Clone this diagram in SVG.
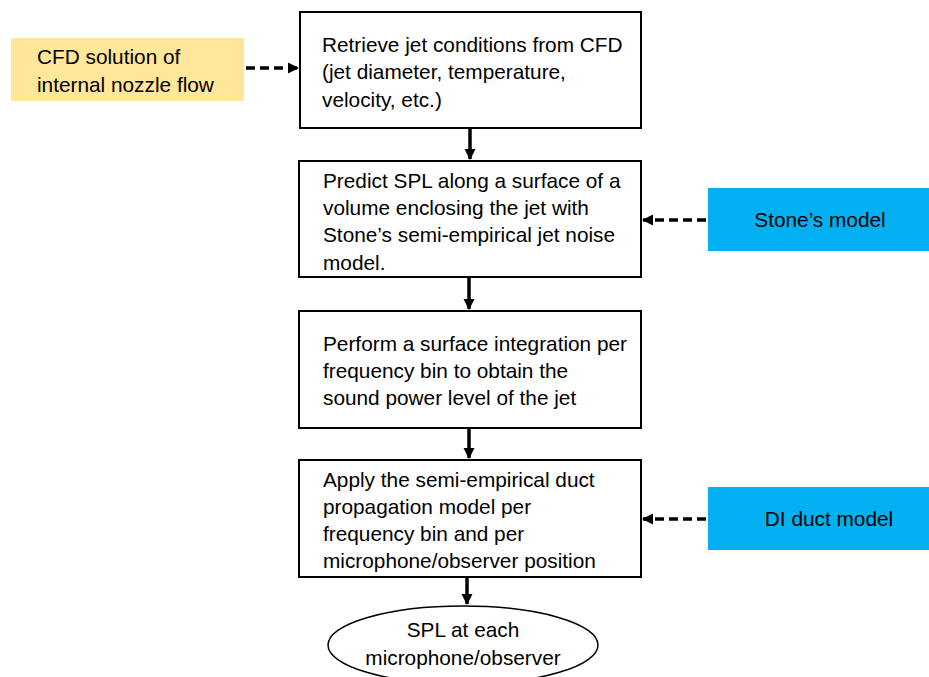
<svg xmlns="http://www.w3.org/2000/svg" width="929" height="677" viewBox="0 0 929 677">
<style>
text{font-family:"Liberation Sans",Arial,sans-serif;font-size:20.8px;fill:#000}
.box{fill:#fff;stroke:#000;stroke-width:2}
.solid{stroke:#000;stroke-width:3.5;fill:none}
.dash{stroke:#000;stroke-width:3.5;fill:none;stroke-dasharray:9,5}
</style>
<defs>
<marker id="ah" markerWidth="12" markerHeight="12" refX="10" refY="6" orient="auto" markerUnits="userSpaceOnUse">
<path d="M0,0.5 L11,6 L0,11.5 Z" fill="#000"/>
</marker>
</defs>
<rect width="929" height="677" fill="#fff"/>
<g id="cfd">
<rect x="11" y="38" width="233" height="63" fill="#FFE699"/>
<text x="37" y="64">CFD solution of</text>
<text x="37" y="92">internal nozzle flow</text>
</g>
<g id="retrieve">
<rect class="box" x="300" y="12" width="341" height="116"/>
<text x="322" y="52">Retrieve jet conditions from CFD</text>
<text x="322" y="79">(jet diameter, temperature,</text>
<text x="322" y="107">velocity, etc.)</text>
</g>
<g id="predict">
<rect class="box" x="299" y="161" width="342" height="116"/>
<text x="323" y="188">Predict SPL along a surface of a</text>
<text x="323" y="215">volume enclosing the jet with</text>
<text x="323" y="242">Stone’s semi-empirical jet noise</text>
<text x="323" y="270">model.</text>
</g>
<g id="stone">
<rect x="708" y="188" width="221" height="63" fill="#00B0F0"/>
<text x="820" y="227" text-anchor="middle">Stone’s model</text>
</g>
<g id="integrate">
<rect class="box" x="299" y="311" width="342" height="117"/>
<text x="323" y="351">Perform a surface integration per</text>
<text x="323" y="378">frequency bin to obtain the</text>
<text x="323" y="405">sound power level of the jet</text>
</g>
<g id="apply">
<rect class="box" x="299" y="460" width="342" height="117"/>
<text x="323" y="487">Apply the semi-empirical duct</text>
<text x="323" y="514">propagation model per</text>
<text x="323" y="541">frequency bin and per</text>
<text x="323" y="568">microphone/observer position</text>
</g>
<g id="di">
<rect x="708" y="487" width="221" height="63" fill="#00B0F0"/>
<text x="829" y="526" text-anchor="middle">DI duct model</text>
</g>
<g id="spl">
<ellipse cx="463" cy="645" rx="135" ry="39" fill="#fff" stroke="#000" stroke-width="1.5"/>
<text x="463" y="637" text-anchor="middle">SPL at each</text>
<text x="463" y="665" text-anchor="middle">microphone/observer</text>
</g>
<g id="connectors">
<line class="dash" x1="246" y1="68" x2="298" y2="68" marker-end="url(#ah)"/>
<line class="solid" x1="470" y1="129" x2="470" y2="159" marker-end="url(#ah)"/>
<line class="dash" x1="706" y1="220" x2="643" y2="220" marker-end="url(#ah)"/>
<line class="solid" x1="469" y1="278" x2="469" y2="309" marker-end="url(#ah)"/>
<line class="solid" x1="469" y1="429" x2="469" y2="458" marker-end="url(#ah)"/>
<line class="dash" x1="706" y1="519" x2="643" y2="519" marker-end="url(#ah)"/>
<line class="solid" x1="467" y1="578" x2="467" y2="604" marker-end="url(#ah)"/>
</g>
</svg>
